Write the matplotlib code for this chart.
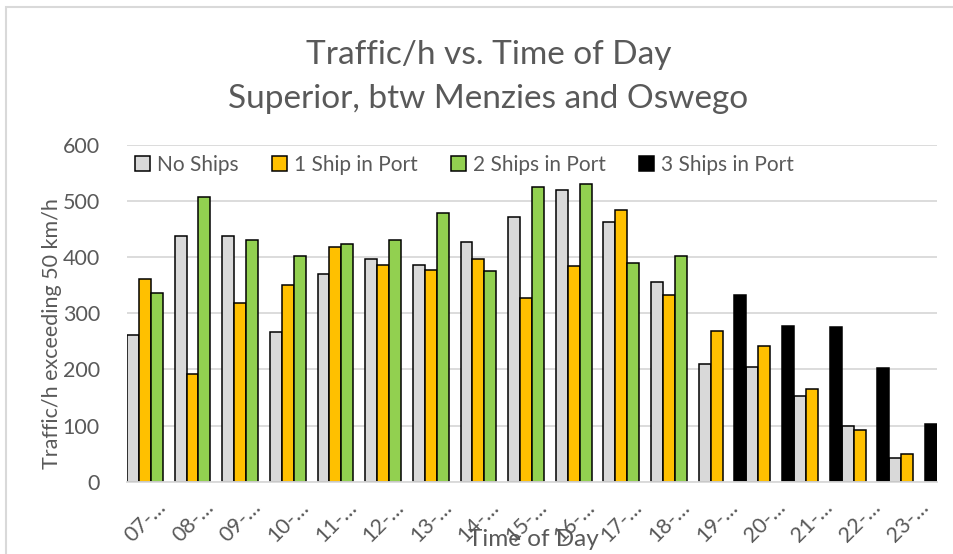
import matplotlib
matplotlib.use("Agg")
import matplotlib.pyplot as plt
from matplotlib.patches import Rectangle
from matplotlib.transforms import ScaledTranslation
import numpy as np

plt.rcParams['font.family'] = ['Lato', 'DejaVu Sans']

# data
hours = ['07', '08', '09', '10', '11', '12', '13', '14', '15', '16', '17',
         '18', '19', '20', '21', '22', '23']
tick_labels = [h + '-\u2026' for h in hours]
series_names = ['No Ships', '1 Ship in Port', '2 Ships in Port', '3 Ships in Port']
no_ships = [261, 437, 437, 267, 371, 397, 386, 427, 472, 520, 463, 355,
            209, 204, 153, 100, 42]
one_ship = [361, 192, 318, 351, 418, 387, 377, 397, 327, 385, 484, 332,
            268, 241, 165, 92, 50]
two_ships = [336, 507, 430, 403, 424, 431, 479, 376, 525, 531, 389, 402,
             None, None, None, None, None]
three_ships = [None, None, None, None, None, None, None, None, None, None, None, None,
               333, 277, 275, 202, 103]

COLORS = ['#D9D9D9', '#FFC000', '#92D050', '#000000']
TEXT = '#595959'
GRID = '#D9D9D9'

fig = plt.figure(figsize=(9.54, 5.54), dpi=100)
ax = fig.add_axes([127 / 954, 1 - 481.7 / 554, 810 / 954, 336.7 / 554])

# chart border
fig.patches.append(Rectangle((6 / 954, -0.1), 1.2, 1 - 7 / 554 + 0.1,
                             transform=fig.transFigure, fill=False,
                             edgecolor=GRID, linewidth=1.5))

x = np.arange(len(hours))
w = 0.25
for k, (vals, name, col) in enumerate(zip([no_ships, one_ship, two_ships, three_ships],
                                          series_names, COLORS)):
    idx = [i for i, v in enumerate(vals) if v is not None]
    hts = [vals[i] for i in idx]
    ax.bar(x[idx] + (k - 1.5) * w, hts, width=w, color=col,
           edgecolor='black', linewidth=1.1, label=name, zorder=2)

ax.set_xlim(-0.5, len(hours) - 0.5)
ax.set_ylim(0, 600)
ax.set_yticks(range(0, 601, 100))
ax.yaxis.grid(True, color=GRID, linewidth=1.3)
ax.set_axisbelow(True)
for s in ['left', 'right', 'top']:
    ax.spines[s].set_visible(False)
ax.spines['bottom'].set_color(GRID)
ax.spines['bottom'].set_linewidth(1.3)
ax.tick_params(length=0, labelsize=15.5, colors=TEXT)
ax.tick_params(axis='y', pad=19.5)

ax.set_xticks(x)
ax.set_xticklabels(tick_labels, rotation=45, ha='right', va='baseline',
                   rotation_mode='anchor')
off = ScaledTranslation(16 / 100, -22 / 100, fig.dpi_scale_trans)
for lbl in ax.get_xticklabels():
    lbl.set_transform(lbl.get_transform() + off)

ax.set_ylabel('Traffic/h exceeding 50 km/h', fontsize=15.5, color=TEXT)
ax.yaxis.set_label_coords(-0.08, 0.44)
ax.set_xlabel('Time of Day', fontsize=17.5, color=TEXT)
ax.xaxis.set_label_coords(0.502, -0.14)

leg = ax.legend(ncol=4, loc='upper left', bbox_to_anchor=(0.0, 0.995),
                frameon=False, fontsize=15, handlelength=0.7, handleheight=0.7,
                handletextpad=0.35, columnspacing=1.6, borderaxespad=0)
for t in leg.get_texts():
    t.set_color(TEXT)

fig.text(0.512, 1 - 64 / 554, 'Traffic/h vs. Time of Day', ha='center',
         va='baseline', fontsize=24, color=TEXT)
fig.text(0.512, 1 - 108 / 554, 'Superior, btw Menzies and Oswego', ha='center',
         va='baseline', fontsize=24, color=TEXT)

fig.savefig('out.png', dpi=100, facecolor='white')
